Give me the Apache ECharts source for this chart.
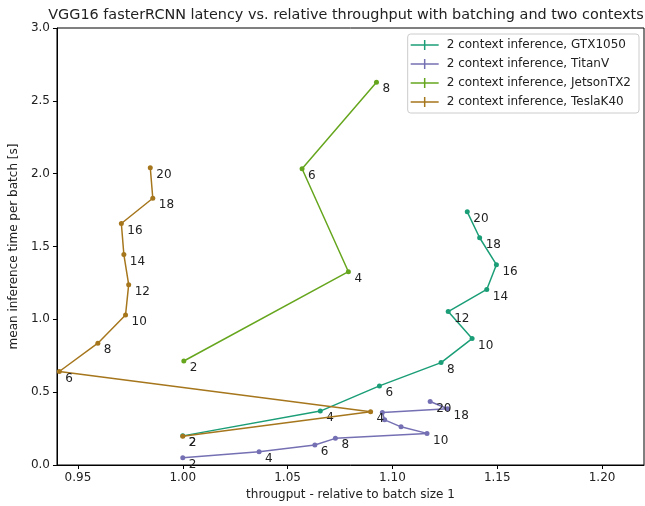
<!DOCTYPE html>
<html>
<head>
<meta charset="utf-8">
<script src="https://cdn.jsdelivr.net/npm/echarts@6/dist/echarts.min.js"></script>
<style>
  html, body { margin: 0; padding: 0; background: #fff; }
  #chart { width: 645px; height: 506px; }
</style>
</head>
<body>
<div id="chart"></div>
<script>
// Batch sizes annotated next to each point ('' = no annotation)
const gtxLabels    = ['2', '4', '6', '8', '10', '12', '14', '16', '18', '20'];
const titanLabels  = ['2', '4', '6', '8', '10', '', '', '', '18', '20'];
const jetsonLabels = ['2', '4', '6', '8'];
const teslaLabels  = ['2', '4', '6', '8', '10', '12', '14', '16', '18', '20'];

// Relative throughput (x) and mean latency per batch in seconds (y)
const gtxX    = [1.000, 1.0656, 1.0938, 1.1232, 1.1380, 1.1266, 1.1450, 1.1496, 1.1416, 1.1357];
const gtxY    = [0.200, 0.370, 0.543, 0.703, 0.868, 1.053, 1.205, 1.375, 1.560, 1.738];
const titanX  = [1.000, 1.0364, 1.0630, 1.0728, 1.1165, 1.1041, 1.0963, 1.0952, 1.1263, 1.1180];
const titanY  = [0.050, 0.091, 0.137, 0.183, 0.217, 0.262, 0.310, 0.361, 0.386, 0.436];
const jetsonX = [1.0005, 1.0790, 1.0569, 1.0924];
const jetsonY = [0.714, 1.327, 2.034, 2.628];
const teslaX  = [1.000, 1.0896, 0.9411, 0.9595, 0.9727, 0.9742, 0.9719, 0.9707, 0.9857, 0.9845];
const teslaY  = [0.197, 0.365, 0.642, 0.836, 1.030, 1.238, 1.445, 1.658, 1.831, 2.041];

const seriesNames = [
  '2 context inference, GTX1050',
  '2 context inference, TitanV',
  '2 context inference, JetsonTX2',
  '2 context inference, TeslaK40'
];
const seriesColors = ['#1b9e77', '#7570b3', '#66a61e', '#a6761d'];

const xTicks = [0.95, 1.00, 1.05, 1.10, 1.15, 1.20];

const FONT = 'DejaVu Sans';
const TEXT = '#222222';
const SMALL = 12;

function makeSeries(idx, xs, ys, labels) {
  return {
    name: seriesNames[idx],
    type: 'line',
    data: xs.map((x, i) => ({ value: [x, ys[i]], name: labels[i] })),
    symbol: 'circle',
    symbolSize: 5,
    showSymbol: true,
    color: seriesColors[idx],
    itemStyle: { color: seriesColors[idx] },
    lineStyle: { width: 1.5, color: seriesColors[idx] },
    emphasis: { disabled: true },
    animation: false,
    z: 2 + idx,
    label: {
      show: true,
      // annotation sits just right of and below each marker
      position: [8.5, 9.5],
      align: 'left',
      verticalAlign: 'middle',
      formatter: p => p.name,
      color: TEXT,
      fontFamily: FONT,
      fontSize: SMALL
    },
    labelLayout: { hideOverlap: false }
  };
}

const chart = echarts.init(document.getElementById('chart'), null, { renderer: 'canvas' });

chart.setOption({
  backgroundColor: '#ffffff',
  animation: false,
  title: {
    text: 'VGG16 fasterRCNN latency vs. relative throughput with batching and two contexts',
    left: 346,
    textAlign: 'center',
    top: 8,
    padding: 0,
    textStyle: { fontFamily: FONT, fontSize: 14.4, fontWeight: 'normal', color: TEXT }
  },
  legend: {
    orient: 'vertical',
    right: 6,
    top: 34,
    padding: [4, 8, 4, 3],
    itemGap: 5,
    itemWidth: 28,
    itemHeight: 10,
    icon: 'path://M0,4.25H28V5.75H0Z M13.25,0H14.75V10H13.25Z',
    borderColor: '#cccccc',
    borderWidth: 1,
    borderRadius: 3,
    backgroundColor: 'rgba(255,255,255,0.8)',
    textStyle: { fontFamily: FONT, fontSize: SMALL, lineHeight: 14, color: TEXT, padding: [0, 0, 0, 3] },
    data: seriesNames
  },
  grid: {
    left: 48, right: 1, top: 28, bottom: 40,
    show: true, borderColor: '#000', borderWidth: 1, backgroundColor: 'transparent'
  },
  xAxis: {
    type: 'value',
    min: 0.94,
    max: 1.22,
    name: 'througput - relative to batch size 1',
    nameLocation: 'middle',
    nameGap: 24,
    nameTextStyle: { fontFamily: FONT, fontSize: SMALL, color: TEXT },
    axisLine: { show: true, onZero: false, lineStyle: { color: '#000', width: 1 } },
    axisTick: { show: true, length: 4, customValues: xTicks, lineStyle: { color: '#000' } },
    axisLabel: {
      customValues: xTicks,
      formatter: v => v.toFixed(2),
      margin: 7,
      fontFamily: FONT, fontSize: SMALL, color: TEXT
    },
    splitLine: { show: false }
  },
  yAxis: {
    type: 'value',
    min: 0,
    max: 3,
    interval: 0.5,
    name: 'mean inference time per batch [s]',
    nameLocation: 'middle',
    nameGap: 32,
    nameTextStyle: { fontFamily: FONT, fontSize: SMALL, color: TEXT },
    axisLine: { show: true, onZero: false, lineStyle: { color: '#000', width: 1 } },
    axisTick: { show: true, length: 4, lineStyle: { color: '#000' } },
    axisLabel: {
      formatter: v => v.toFixed(1),
      margin: 7,
      fontFamily: FONT, fontSize: SMALL, color: TEXT
    },
    splitLine: { show: false }
  },
  series: [
    makeSeries(0, gtxX, gtxY, gtxLabels),
    makeSeries(1, titanX, titanY, titanLabels),
    makeSeries(2, jetsonX, jetsonY, jetsonLabels),
    makeSeries(3, teslaX, teslaY, teslaLabels)
  ]
});
</script>
</body>
</html>
